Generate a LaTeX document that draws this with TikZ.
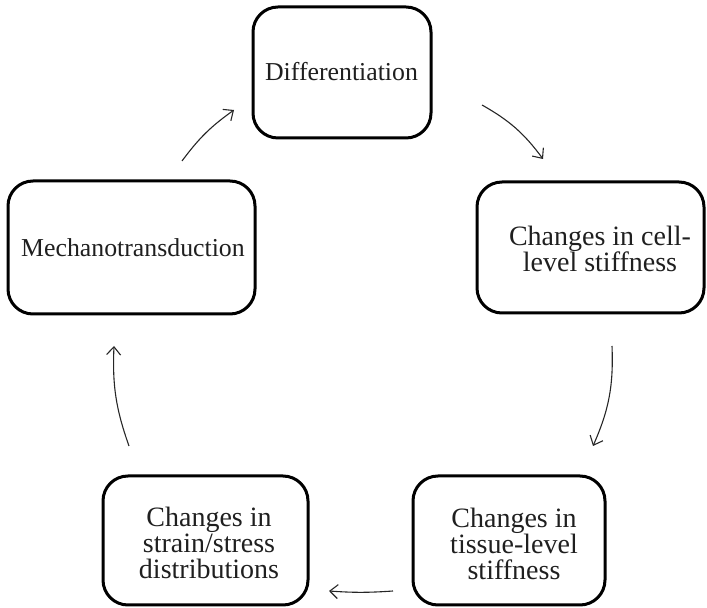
\documentclass[tikz,border=0pt]{standalone}
\usepackage{fontspec}
\setmainfont{Liberation Serif}
\usetikzlibrary{arrows.meta}
\begin{document}
\begin{tikzpicture}[x=0.5pt,y=-0.5pt,
  box/.style={draw, line width=1.5pt, rounded corners=12.5pt, inner sep=0pt},
  lbl/.style={align=center, inner sep=0pt, text=black!88},
  big/.style={font=\fontsize{14}{13}\selectfont},
  small/.style={font=\fontsize{12.9}{13}\selectfont},
  link/.style={line width=0.55pt, draw=black!85, -{Straight Barb[length=4pt,width=7pt]}}]
\useasboundingbox (0,0) rectangle (707,608);
% boxes
\node[box, minimum width=89pt, minimum height=65.5pt] (D) at (342,72.5) {};
\node[box, minimum width=123.5pt, minimum height=66.5pt] (M) at (131.5,247.5) {};
\node[box, minimum width=113.5pt, minimum height=65.5pt] (C) at (590.5,247.5) {};
\node[box, minimum width=102.5pt, minimum height=64.5pt] (S) at (205.5,540.5) {};
\node[box, minimum width=96pt, minimum height=64.5pt] (T) at (509,540.5) {};
% texts
\node[lbl, small] (Dt) at (341.5,72) {Differentiation};
\node[lbl, small] (Mt) at (133,248) {Mechanotransduction};
\node[lbl, big] (Ct) at (600,249) {Changes in cell-\\level stiffness};
\node[lbl, big] (St) at (209,543) {Changes in\\strain/stress\\distributions};
\node[lbl, big] (Tt) at (514,544) {Changes in\\tissue-level\\stiffness};
% connector ends
\coordinate (a1s) at (182,161);
\coordinate (a1e) at (234,110);
\coordinate (a2s) at (482,105);
\coordinate (a2e) at (543,159);
\coordinate (a3s) at (612,346);
\coordinate (a3e) at (593,446);
\coordinate (a4s) at (393,591);
\coordinate (a4e) at (329,591);
\coordinate (a5s) at (129,446);
\coordinate (a5e) at (114,346);
\draw[link] (a1s) to[bend left=9] (a1e);
\draw[link] (a2s) to[bend left=12] (a2e);
\draw[link] (a3s) to[bend left=13] (a3e);
\draw[link] (a4s) to[bend left=4] (a4e);
\draw[link] (a5s) to[bend left=11] (a5e);
\end{tikzpicture}
\end{document}
